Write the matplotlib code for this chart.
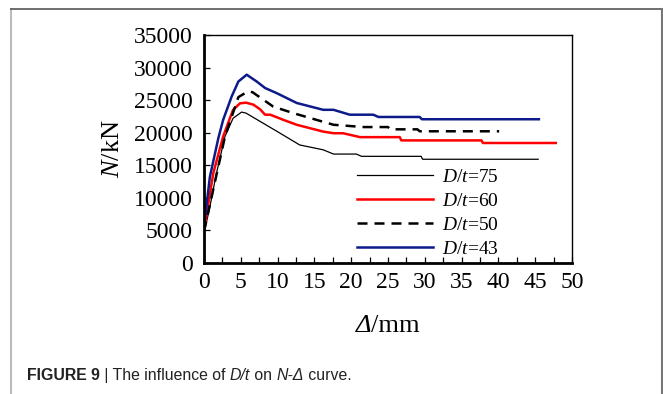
import matplotlib
matplotlib.use("Agg")
import matplotlib.pyplot as plt
from matplotlib.lines import Line2D

plt.rcParams['mathtext.fontset'] = 'custom'
plt.rcParams['mathtext.rm'] = 'Liberation Serif'
plt.rcParams['mathtext.it'] = 'Liberation Serif:italic'
plt.rcParams['font.family'] = ['Liberation Serif', 'DejaVu Serif']

# ---- data ----
x_75 = [0, 0.8, 1.7, 2.85, 3.95, 5.1, 5.7, 7.2, 9.9, 13.0, 16.2, 17.6, 20.7, 21.4, 29.5, 29.7, 45.4]
n_75 = [4500, 8600, 13800, 19400, 22200, 23150, 23000, 22000, 20200, 18100, 17350, 16700, 16700, 16350, 16350, 15900, 15900]

x_60 = [0, 1.27, 2.6, 3.95, 4.9, 5.7, 6.7, 7.6, 8.3, 9.0, 10.8, 12.6, 16.2, 17.6, 18.9, 21.2, 26.6, 26.8, 37.7, 37.9, 47.8]
n_60 = [5000, 13800, 19400, 23500, 24500, 24600, 24300, 23600, 22750, 22750, 21950, 21200, 20150, 19900, 19900, 19300, 19300, 18800, 18800, 18400, 18400]

x_50 = [0, 1.5, 2.85, 4.67, 6.0, 6.6, 9.4, 12.1, 15.3, 17.6, 21.7, 25.0, 25.3, 29.0, 29.3, 40.1]
n_50 = [4800, 12500, 19400, 25450, 26350, 26200, 24000, 23000, 21950, 21200, 20850, 20850, 20500, 20500, 20200, 20200]

x_43 = [0, 0.8, 1.95, 2.6, 3.76, 4.67, 5.8, 7.16, 8.3, 9.9, 12.6, 16.2, 17.6, 19.8, 23.0, 23.7, 29.3, 29.6, 45.5]
n_43 = [5600, 13200, 19150, 21950, 25550, 27850, 28900, 27850, 26850, 26050, 24550, 23500, 23500, 22750, 22750, 22400, 22400, 22050, 22050]

labels = ['75', '60', '50', '43']
x_ticks = [0, 5, 10, 15, 20, 25, 30, 35, 40, 45, 50]
y_ticks = [0, 5000, 10000, 15000, 20000, 25000, 30000, 35000]

fig = plt.figure(figsize=(6.63, 3.94), dpi=100)
ax = fig.add_axes([204/663, 1 - 262.7/394, (572-204)/663, (262.7-35)/394])

ax.plot(x_75, n_75, color='black', lw=0.9)
ax.plot(x_60, n_60, color='#ff0000', lw=1.8)
ax.plot(x_50, n_50, color='black', lw=1.8, dashes=(4, 2.8))
ax.plot(x_43, n_43, color='#0d1a8a', lw=1.8)

ax.set_xlim(0, 50)
ax.set_ylim(0, 35000)
ax.set_xticks(x_ticks)
ax.set_yticks(y_ticks)
ax.set_xticks([2.5 + 5*i for i in range(10)], minor=True)
ax.tick_params(axis='both', which='both', direction='in', length=4, width=0.9,
               labelsize=17, colors='black')
ax.tick_params(axis='x', which='both', top=False, pad=7)
ax.tick_params(axis='y', right=False, pad=8)
for s in ['left', 'bottom']:
    ax.spines[s].set_linewidth(2.0)
for s in ['top', 'right']:
    ax.spines[s].set_linewidth(1.0)

ax.set_ylabel(r'$\mathit{N}$/kN', fontsize=19, labelpad=7)

fig.canvas.draw()
r = fig.canvas.get_renderer()

# x label: italic Delta + "/mm", centred under the axes
xl_parts = [('Δ', 'italic'), ('/mm', 'normal')]
tmp = [fig.text(0, 0, s, fontsize=19, fontstyle=st) for s, st in xl_parts]
widths = [t.get_window_extent(renderer=r).width for t in tmp]
for t in tmp:
    t.remove()
xp = 388 - sum(widths) / 2
for (s, st), w in zip(xl_parts, widths):
    fig.text(xp/663, 1 - 332/394, s, fontsize=19, fontstyle=st, va='baseline')
    xp += w

handles = [
    Line2D([], [], color='black', lw=0.9),
    Line2D([], [], color='#ff0000', lw=1.8),
    Line2D([], [], color='black', lw=1.8, dashes=(4, 2.8)),
    Line2D([], [], color='#0d1a8a', lw=1.8),
]
leg = ax.legend(handles, [r'$\mathit{D}/\mathit{t}$=' + l for l in labels],
                loc='upper left', bbox_to_anchor=((357-204)/368, (262.7-168)/227.7),
                frameon=False, fontsize=14, handlelength=3.9, handletextpad=0.45,
                labelspacing=0.34, borderaxespad=0, borderpad=0)

# outer frame lines
fig.add_artist(Line2D([11/663, 11/663], [0, 1 - 9/394], transform=fig.transFigure, color='#bbbbbb', lw=1.5))
fig.add_artist(Line2D([11/663, 662/663], [1 - 9/394, 1 - 9/394], transform=fig.transFigure, color='#555555', lw=1.2))
fig.add_artist(Line2D([662/663, 662/663], [0, 1 - 9/394], transform=fig.transFigure, color='#777777', lw=1.5))

# caption built from pieces
pieces = [('FIGURE 9', 'bold', 'normal'), (' | The influence of ', 'normal', 'normal'),
          ('D/t', 'normal', 'italic'), (' on ', 'normal', 'normal'),
          ('N-Δ', 'normal', 'italic'), (' curve.', 'normal', 'normal')]
xp = 27
for txt, w, st in pieces:
    t = fig.text(xp/663, 1 - 380/394, txt, fontsize=11.4, fontweight=w, fontstyle=st,
                 family=['Liberation Sans', 'DejaVu Sans'], color='#222222', va='baseline')
    bb = t.get_window_extent(renderer=r)
    xp += bb.width

fig.savefig('out.png', dpi=100)
